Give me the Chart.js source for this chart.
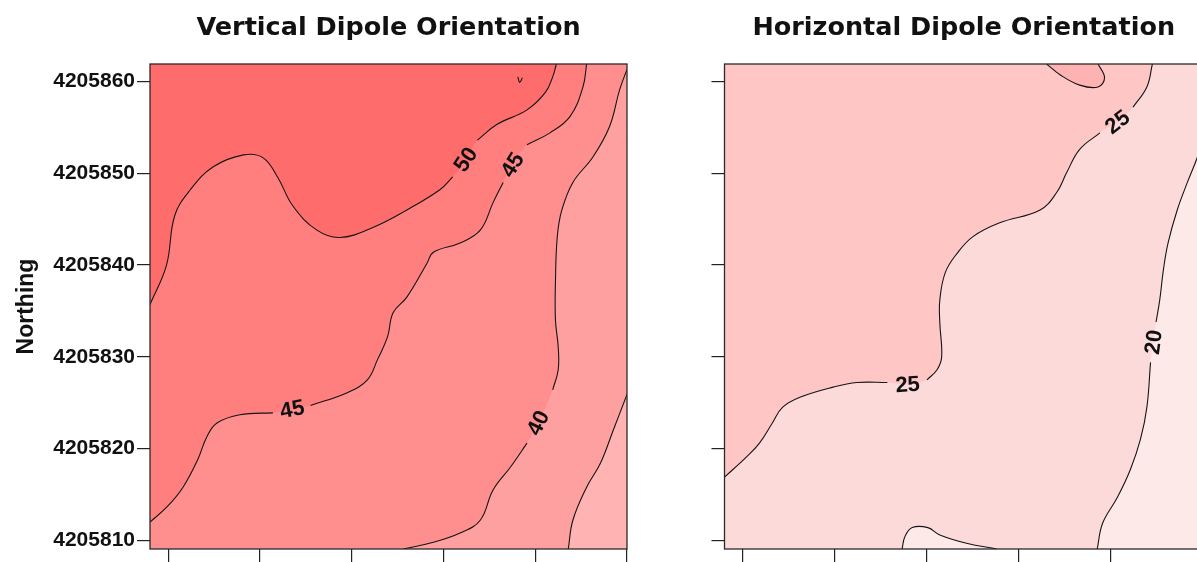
<!DOCTYPE html>
<html>
<head>
<meta charset="utf-8">
<script src="https://cdn.jsdelivr.net/npm/chart.js@4.4.1/dist/chart.umd.min.js"></script>
<style>
html, body { margin:0; padding:0; background:#fff; overflow:hidden; width:1197px; height:562px; }
#vert { position:absolute; left:0; top:0; }
#horiz { position:absolute; left:640px; top:0; }
</style>
</head>
<body>
<canvas id="vert" width="640" height="569"></canvas>
<canvas id="horiz" width="575" height="569"></canvas>
<script type="text/javascript">

// survey grid extent
const eastMin = -2, eastMax = 50;
const northMin = 4205809.07, northMax = 4205861.9;
const eastingTicks = [0, 10, 20, 30, 40, 50];
const northingTicks = [4205810, 4205820, 4205830, 4205840, 4205850, 4205860];

// Vertical dipole contours, [easting, northing]
const vert55 = [[38.1,4205860.5],[38.3,4205859.9],[38.6,4205860.4]];
const vert50 = [[-2.0,4205835.7],[-0.2,4205840.0],[0.7,4205845.4],[2.4,4205848.2],[4.9,4205850.7],[8.2,4205852.0],
	[10.3,4205851.7],[11.9,4205849.6],[13.6,4205846.4],[16.2,4205843.8],[18.7,4205843.0],[22.3,4205844.1],
	[26.0,4205846.0],[29.6,4205848.2],[31.0,4205849.6],[32.4,4205851.5],[33.7,4205853.6],[35.8,4205855.3],
	[39.1,4205856.9],[41.1,4205858.8],[41.9,4205860.5],[42.3,4205861.9]];
const vert45 = [[45.6,4205861.9],[45.2,4205859.4],[43.8,4205856.2],[41.6,4205854.4],[39.1,4205853.1],[37.5,4205850.9],
	[36.5,4205849.0],[35.4,4205846.8],[34.0,4205843.8],[31.8,4205842.4],[28.9,4205841.4],[28.2,4205840.2],
	[26.0,4205836.5],[24.5,4205834.8],[23.9,4205832.2],[22.8,4205829.7],[21.7,4205827.5],[19.5,4205826.1],
	[15.5,4205824.7],[13.5,4205824.3],[11.4,4205823.9],[7.8,4205823.7],[5.3,4205822.8],[4.2,4205821.3],
	[3.2,4205818.8],[1.6,4205815.8],[-0.1,4205813.7],[-2.0,4205812.0]];
const vert40 = [[50,4205861.3],[49.2,4205859.1],[48.1,4205855.1],[46.3,4205851.8],[44.1,4205849.0],[42.9,4205846.0],
	[42.4,4205843.1],[42.2,4205838.1],[42.2,4205834.0],[42.5,4205831.1],[42.5,4205828.6],[41.9,4205826.4],
	[40.3,4205822.8],[39.1,4205820.6],[37.3,4205818.0],[35.4,4205815.5],[34.0,4205812.2],[31.8,4205810.8],
	[28.9,4205809.8],[25.6,4205809.07]];
const vert35 = [[50,4205825.9],[48.5,4205822.0],[47.1,4205818.4],[45.6,4205815.8],[44.1,4205812.2],[43.6,4205809.07]];

// Horizontal dipole contours
const horiz30 = [[33.0,4205861.9],[34.5,4205860.7],[36.6,4205859.6],[38.6,4205859.4],[39.3,4205860.4],[38.6,4205861.9]];
const horiz25 = [[44.5,4205861.9],[43.9,4205859.4],[42.4,4205857.2],[40.7,4205855.6],[38.8,4205854.4],[36.6,4205852.6],
	[35.2,4205850.1],[34.1,4205847.9],[32.3,4205846.0],[27.9,4205844.6],[25.0,4205843.1],[23.3,4205841.3],
	[22.0,4205839.2],[21.4,4205836.2],[21.4,4205833.7],[21.6,4205830.0],[21.1,4205828.6],[20.0,4205827.5],
	[17.9,4205827.0],[15.7,4205827.2],[12.4,4205827.2],[9.8,4205826.7],[6.2,4205825.6],[4.3,4205824.5],
	[3.2,4205822.8],[1.8,4205820.6],[0.4,4205819.1],[-2.0,4205816.9]];
const horiz20 = [[50,4205853.6],[49.3,4205851.5],[48.3,4205849.0],[47.2,4205846.0],[46.2,4205842.4],[45.7,4205839.5],
	[45.3,4205836.2],[44.9,4205833.8],[44.6,4205831.6],[44.3,4205829.4],[43.9,4205824.5],[43.2,4205821.0],
	[42.1,4205817.7],[40.7,4205814.7],[39.1,4205811.9],[38.5,4205809.07]];
const horiz20b = [[17.3,4205809.07],[17.6,4205810.4],[18.4,4205811.4],[20.1,4205811.4],[21.4,4205810.6],
	[24.3,4205809.7],[27.6,4205809.07]];

const vertColors = {c35:"#FFB3B3", c40:"#FFA0A0", c45:"#FF8E8E", c50:"#FF7E7E", c55:"#FF6C6C"};
const horizColors = {c20:"#FEE9E9", c25:"#FCDADA", c30:"#FFC6C6", c35:"#FFB2B2"};

const padE = 3, padN = 3;
const corner = {
	TL: [eastMin - padE, northMax + padN],
	TR: [eastMax + padE, northMax + padN],
	BR: [eastMax + padE, northMin - padN],
	BL: [eastMin - padE, northMin - padN]
};

function toEdge(p){
	const tol = 0.15;
	if(p[0] <= eastMin + tol) return [eastMin - padE, p[1]];
	if(p[0] >= eastMax - tol) return [eastMax + padE, p[1]];
	if(p[1] <= northMin + tol) return [p[0], northMin - padN];
	return [p[0], northMax + padN];
}

// closed region: contour, then out over the edge and round the given corners
// (outside points doubled so the spline runs straight there)
function region(line, corners){
	let pts = [];
	if(line){
		const a = toEdge(line[0]), b = toEdge(line[line.length - 1]);
		pts = [a, a, line[0]].concat(line, [line[line.length - 1], b, b]);
	}
	corners.forEach(c => pts.push(corner[c], corner[c]));
	return pts.map(p => ({x: p[0], y: p[1]}));
}

function fillSet(data, color, order){
	return {data: data, showLine: true, fill: "shape", backgroundColor: color, borderColor: "rgba(0,0,0,0)",
		borderWidth: 0, pointRadius: 0, tension: 0.4, order: order};
}

// contour line, broken where the labels sit
function lineSets(line, labels){
	const cut = labels.filter(l => l.line === line).map(l => l.at);
	let sets = [], seg = [];
	line.forEach((p, i) => {
		if(cut.includes(i)){ if(seg.length) sets.push(seg); seg = []; }
		else seg.push({x: p[0], y: p[1]});
	});
	if(seg.length) sets.push(seg);
	return sets.map(s => ({data: s, showLine: true, fill: false, borderColor: "#151515", borderWidth: 1.1,
		pointRadius: 0, tension: 0.4, order: 0}));
}

const framePlugin = {
	id: "frame",
	afterDatasetsDraw(chart){
		const {ctx, chartArea: a} = chart;
		ctx.save();
		ctx.strokeStyle = "#2a2a2a";
		ctx.lineWidth = 1.3;
		ctx.strokeRect(a.left, a.top, a.right - a.left, a.bottom - a.top);
		ctx.restore();
	}
};

function labelPlugin(labels){
	return {
		id: "contourLabels",
		afterDatasetsDraw(chart){
			const {ctx} = chart;
			const sx = chart.scales.x, sy = chart.scales.y;
			ctx.save();
			ctx.font = "bold 22px 'Liberation Sans', Arial, sans-serif";
			ctx.fillStyle = "#111";
			ctx.textAlign = "center";
			ctx.textBaseline = "middle";
			labels.forEach(l => {
				const p = l.line[l.at], a = l.line[l.at - 1], b = l.line[l.at + 1];
				let ang = Math.atan2(sy.getPixelForValue(b[1]) - sy.getPixelForValue(a[1]),
					sx.getPixelForValue(b[0]) - sx.getPixelForValue(a[0]));
				if(ang > Math.PI / 2) ang -= Math.PI;
				else if(ang <= -Math.PI / 2) ang += Math.PI;
				ctx.save();
				ctx.translate(sx.getPixelForValue(p[0]), sy.getPixelForValue(p[1]));
				ctx.rotate(ang);
				ctx.fillText(l.text, 0, 1);
				ctx.restore();
			});
			ctx.restore();
		}
	};
}

function makePanel(id, title, datasets, labels, yWidth, showY, padRight){
	const tickFont = {family: "'Liberation Sans', Arial, sans-serif", size: 21, weight: "bold"};
	new Chart(id, {
		type: "scatter",
		data: {datasets: datasets},
		options: {
			responsive: false,
			animation: false,
			events: [],
			layout: {padding: {left: 0, right: padRight, top: 0, bottom: 0}},
			plugins: {
				legend: {display: false},
				tooltip: {enabled: false},
				title: {
					display: true, text: title, fullSize: false, color: "#111",
					font: {family: "'DejaVu Sans', sans-serif", size: 25.5, weight: "bold"},
					padding: {top: 13, bottom: 20.4}
				}
			},
			scales: {
				x: {
					type: "linear", min: eastMin, max: eastMax,
					afterBuildTicks: s => { s.ticks = eastingTicks.map(v => ({value: v})); },
					afterFit: s => { s.height = 20; },
					ticks: {display: false},
					border: {display: false},
					grid: {drawOnChartArea: false, drawTicks: true, tickLength: 14, color: "#222", lineWidth: 1.2}
				},
				y: {
					type: "linear", min: northMin, max: northMax,
					afterBuildTicks: s => { s.ticks = northingTicks.map(v => ({value: v})); },
					afterFit: s => { s.width = yWidth; },
					ticks: {display: showY, font: tickFont, color: "#111", padding: 2, callback: v => String(v)},
					title: {display: showY, text: "Northing", color: "#111", padding: {top: 13, bottom: 0},
						font: {family: "'Liberation Sans', Arial, sans-serif", size: 23, weight: "bold"}},
					border: {display: false},
					grid: {drawOnChartArea: false, drawTicks: true, tickLength: 13, color: "#222", lineWidth: 1.2}
				}
			}
		},
		plugins: [framePlugin, labelPlugin(labels)]
	});
}

const vertLabels = [
	{line: vert50, at: 15, text: "50"},
	{line: vert45, at: 5, text: "45"},
	{line: vert45, at: 19, text: "45"},
	{line: vert40, at: 12, text: "40"}
];
const horizLabels = [
	{line: horiz25, at: 3, text: "25"},
	{line: horiz25, at: 18, text: "25"},
	{line: horiz20, at: 8, text: "20"}
];

const vertSets = [
	fillSet(region(null, ["TL", "TR", "BR", "BL"]), vertColors.c35, 20),
	fillSet(region(vert35, ["BL", "TL", "TR"]), vertColors.c40, 19),
	fillSet(region(vert40, ["BL", "TL", "TR"]), vertColors.c45, 18),
	fillSet(region(vert45, ["TL"]), vertColors.c50, 17),
	fillSet(region(vert50, ["TL"]), vertColors.c55, 16)
].concat(lineSets(vert50, vertLabels), lineSets(vert45, vertLabels), lineSets(vert40, vertLabels),
	lineSets(vert35, vertLabels), lineSets(vert55, vertLabels));

const horizSets = [
	fillSet(region(null, ["TL", "TR", "BR", "BL"]), horizColors.c20, 20),
	fillSet(region(horiz20, ["BL", "TL", "TR"]), horizColors.c25, 19),
	fillSet(region(horiz20b, []), horizColors.c20, 18),
	fillSet(region(horiz25, ["TL"]), horizColors.c30, 17),
	fillSet(region(horiz30, []), horizColors.c35, 16)
].concat(lineSets(horiz30, horizLabels), lineSets(horiz25, horizLabels), lineSets(horiz20, horizLabels),
	lineSets(horiz20b, horizLabels));

makePanel("vert", "Vertical Dipole Orientation", vertSets, vertLabels, 150, true, 13);
makePanel("horiz", "Horizontal Dipole Orientation", horizSets, horizLabels, 84.5, false, 12);

</script>
</body>
</html>
